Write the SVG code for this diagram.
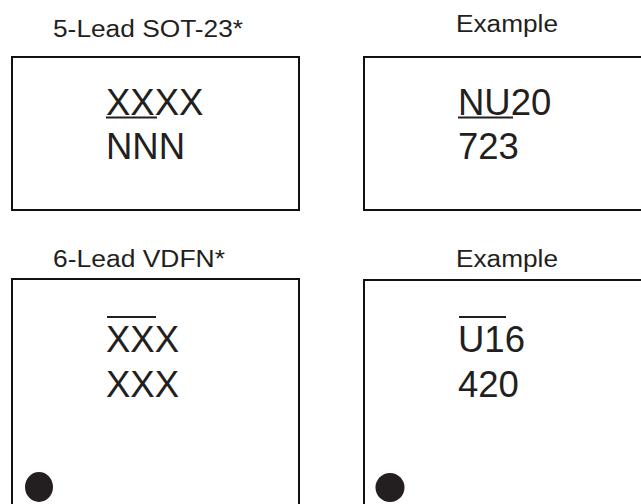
<svg xmlns="http://www.w3.org/2000/svg" width="641" height="504" viewBox="0 0 641 504">
<style>
.box{fill:#fff;stroke:#111;stroke-width:2}
.lbl{font-family:"Liberation Sans",Arial,sans-serif;font-size:23.5px;fill:#231f20}
.big{font-family:"Liberation Sans",Arial,sans-serif;font-size:36.5px;fill:#231f20}
.bar{stroke:#231f20;stroke-width:2}
.dot{fill:#231f20}
</style>
<rect width="641" height="504" fill="#fff"/>
<g id="sot23">
<text class="lbl" x="53" y="37" textLength="190" lengthAdjust="spacingAndGlyphs">5-Lead SOT-23*</text>
<rect class="box" x="12" y="57" width="287" height="153"/>
<text class="big" x="106" y="115">XXXX</text>
<line class="bar" x1="106" y1="117.5" x2="157" y2="117.5"/>
<text class="big" x="106" y="159">NNN</text>
</g>
<g id="sot23-example">
<text class="lbl" x="456" y="32" textLength="102" lengthAdjust="spacingAndGlyphs">Example</text>
<rect class="box" x="364" y="57" width="300" height="153"/>
<text class="big" x="458" y="115">NU20</text>
<line class="bar" x1="458" y1="117.5" x2="513" y2="117.5"/>
<text class="big" x="458" y="159">723</text>
</g>
<g id="vdfn">
<text class="lbl" x="53" y="267" textLength="172" lengthAdjust="spacingAndGlyphs">6-Lead VDFN*</text>
<rect class="box" x="12" y="279" width="287" height="240"/>
<line class="bar" x1="107" y1="317" x2="156" y2="317"/>
<text class="big" x="106" y="352">XXX</text>
<text class="big" x="106" y="397">XXX</text>
<ellipse class="dot" cx="39" cy="487" rx="14" ry="15"/>
</g>
<g id="vdfn-example">
<text class="lbl" x="456" y="267" textLength="102" lengthAdjust="spacingAndGlyphs">Example</text>
<rect class="box" x="364" y="280" width="300" height="240"/>
<line class="bar" x1="459" y1="317" x2="506" y2="317"/>
<text class="big" x="458" y="352">U16</text>
<text class="big" x="458" y="397">420</text>
<ellipse class="dot" cx="390" cy="487.5" rx="14.5" ry="14.5"/>
</g>
<g id="connectors"></g>
</svg>
